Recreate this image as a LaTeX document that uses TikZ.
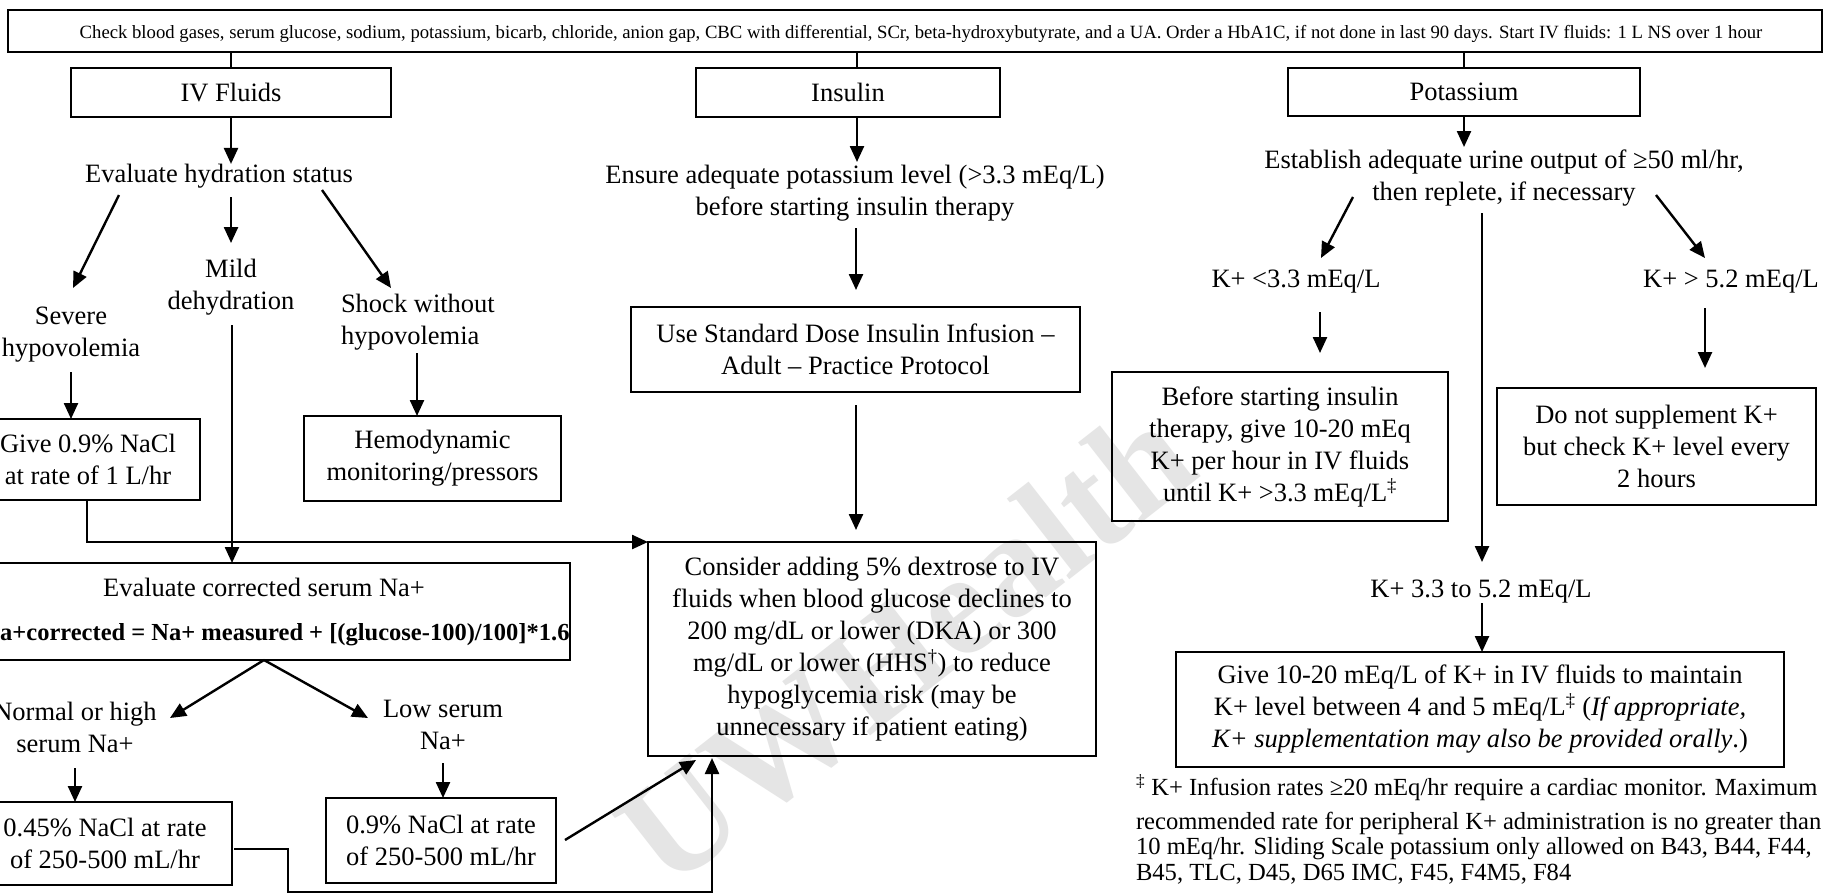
\documentclass[tikz,border=0pt]{standalone}
\usepackage{fontspec}
\setmainfont{Liberation Serif}
\usetikzlibrary{arrows.meta}
\begin{document}
\begin{tikzpicture}[x=1pt,y=-1pt,
  every node/.style={inner sep=0pt,outer sep=0pt,font=\fontsize{26.5}{32}\selectfont},
  box/.style={draw,line width=2.4pt,align=center},
  lbl/.style={align=center},
  arr/.style={line width=2.4pt,-{Triangle[length=16pt,width=14pt]}},
  ln/.style={line width=2.4pt},
]
\useasboundingbox (0,0) rectangle (1836,895);
\fill[white] (0,0) rectangle (1836,895);
% watermark
\node[font=\fontsize{147}{150}\selectfont\bfseries,text=black!10,rotate=38] (wm) at (905,645) {UWHealth};

% top box
\node[box,line width=2.8pt,minimum width=1814pt,minimum height=42pt] (top) at (915,31) {};
\node[font=\fontsize{18.7}{21}\selectfont] (toptext) at (921,34)
 {Check blood gases, serum glucose, sodium, potassium, bicarb, chloride, anion gap, CBC with differential, SCr, beta-hydroxybutyrate, and a UA. Order a HbA1C, if not done in last 90 days. Start IV fluids: 1 L NS over 1 hour};

% headers
\node[box,minimum width=320pt,minimum height=49pt] (ivf) at (231,92.5) {IV Fluids};
\node[box,minimum width=304pt,minimum height=49pt] (ins) at (848,92.5) {Insulin};
\node[box,minimum width=352pt,minimum height=48pt] (pot) at (1464,92) {Potassium};

% IV fluids column
\node[lbl] (hyd) at (219,176) {Evaluate hydration status};
\node[lbl] (mild) at (231,287) {Mild\\dehydration};
\node[lbl] (severe) at (71,335) {Severe\\hypovolemia};
\node[align=left,anchor=west] (shock) at (341,322) {Shock without\\hypovolemia};
\node[box,minimum width=224pt,minimum height=81pt] (give09) at (88,459.5) {Give 0.9\% NaCl\\at rate of 1 L/hr};
\node[box,minimum width=257pt,minimum height=85pt] (hemo) at (432.5,458.5) {Hemodynamic\\monitoring/pressors};
\node[box,minimum width=612pt,minimum height=97pt] (na) at (264,611.5)
 {Evaluate corrected serum Na+\\[12pt]{\fontsize{24.5}{28}\selectfont\bfseries\hspace*{24pt}Na+corrected = Na+ measured + [(glucose-100)/100]*1.6}};
\node[lbl] (normal) at (75,727) {Normal or high\\serum Na+};
\node[lbl] (low) at (443,725) {Low serum\\Na+};
\node[box,minimum width=254pt,minimum height=83pt] (n045) at (105,843.5) {0.45\% NaCl at rate\\of 250-500 mL/hr};
\node[box,minimum width=230pt,minimum height=85pt] (n09) at (441,840.5) {0.9\% NaCl at rate\\of 250-500 mL/hr};

% Insulin column
\node[lbl] (ensure) at (855,193) {Ensure adequate potassium level (>3.3 mEq/L)\\before starting insulin therapy};
\node[box,minimum width=449pt,minimum height=85pt] (usd) at (855.5,349.5) {Use Standard Dose Insulin Infusion --\\Adult -- Practice Protocol};
\node[box,minimum width=448pt,minimum height=214pt] (cons) at (872,649)
 {Consider adding 5\% dextrose to IV\\fluids when blood glucose declines to\\200 mg/dL or lower (DKA) or 300\\mg/dL or lower (HHS\textsuperscript{†}) to reduce\\hypoglycemia risk (may be\\unnecessary if patient eating)};

% Potassium column
\node[lbl] (estab) at (1504,178) {Establish adequate urine output of ≥50 ml/hr,\\then replete, if necessary};
\node[lbl] (klow) at (1296,282) {K+ <3.3 mEq/L};
\node[lbl] (khigh) at (1731,282) {K+ > 5.2 mEq/L};
\node[box,minimum width=336pt,minimum height=149pt] (before) at (1280,446.5)
 {Before starting insulin\\therapy, give 10-20 mEq\\K+ per hour in IV fluids\\until K+ >3.3 mEq/L\textsuperscript{‡}};
\node[box,minimum width=319pt,minimum height=117pt] (donot) at (1656.5,446.5)
 {Do not supplement K+\\but check K+ level every\\2 hours};
\node[lbl] (kmid) at (1481,592) {K+ 3.3 to 5.2 mEq/L};
\node[box,minimum width=608pt,minimum height=115pt] (givek) at (1480,709.5)
 {Give 10-20 mEq/L of K+ in IV fluids to maintain\\K+ level between 4 and 5 mEq/L\textsuperscript{‡} (\textit{If appropriate,}\\\textit{K+ supplementation may also be provided orally}.)};
\node[align=left,anchor=north west,font=\fontsize{24.6}{25.5}\selectfont] (foot) at (1136,775)
 {\textsuperscript{‡} K+ Infusion rates ≥20 mEq/hr require a cardiac monitor. Maximum\\[8pt]recommended rate for peripheral K+ administration is no greater than\\10 mEq/hr. Sliding Scale potassium only allowed on B43, B44, F44,\\B45, TLC, D45, D65 IMC, F45, F4M5, F84};

% free-end coordinates
\coordinate (insx) at (857,0);
\coordinate (hydL) at (119,195);   \coordinate (sevT) at (73,288);
\coordinate (hydM) at (231,197);   \coordinate (mildT) at (231,243);
\coordinate (hydR) at (322,190);   \coordinate (shockT) at (391,288);
\coordinate (sevB) at (71,372);
\coordinate (shockB) at (417,353);
\coordinate (mildB) at (232,325);
\coordinate (g09B) at (87,500);    \coordinate (g09C) at (87,542);
\coordinate (normT) at (170,718);  \coordinate (lowT) at (368,718);
\coordinate (normB) at (75,768);   \coordinate (lowB) at (443,763);
\coordinate (n09E) at (565,840);   \coordinate (consBL) at (696,760);
\coordinate (n045E) at (234,849);  \coordinate (r1) at (288,849);
\coordinate (r2) at (288,892);     \coordinate (r3) at (712,892);
\coordinate (consB) at (712,758);
\coordinate (ensT) at (857,162);
\coordinate (ensB) at (856,228);   \coordinate (usdT) at (856,290);
\coordinate (usdB) at (856,405);   \coordinate (consT) at (856,530);
\coordinate (potB) at (1464,147);
\coordinate (estL) at (1353,197);  \coordinate (klowT) at (1321,258);
\coordinate (estM) at (1482,213);  \coordinate (kmidT) at (1482,562);
\coordinate (estR) at (1656,195);  \coordinate (khighT) at (1705,258);
\coordinate (klowB) at (1320,312); \coordinate (befT) at (1320,353);
\coordinate (khighB) at (1705,308);\coordinate (donT) at (1705,368);
\coordinate (kmidB) at (1482,603);

% connectors from top box
\draw[ln] (top.south -| ivf.north) -- (ivf.north);
\draw[ln] (top.south -| insx) -- (ins.north -| insx);
\draw[ln] (top.south -| pot.north) -- (pot.north);

% IV fluids connectors
\draw[arr] (ivf.south) -- (ivf.south |- hyd.north);
\draw[arr] (hydL) -- (sevT);
\draw[arr] (hydM) -- (mildT);
\draw[arr] (hydR) -- (shockT);
\draw[arr] (sevB) -- (sevB |- give09.north);
\draw[arr] (shockB) -- (shockB |- hemo.north);
\draw[arr] (mildB) -- (mildB |- na.north);
\draw[arr] (g09B) -- (g09C) -- (cons.north west);
\draw[arr] (na.south) -- (normT);
\draw[arr] (na.south) -- (lowT);
\draw[arr] (normB) -- (normB |- n045.north);
\draw[arr] (lowB) -- (lowB |- n09.north);
\draw[arr] (n09E) -- (consBL);
\draw[arr] (n045E) -- (r1) -- (r2) -- (r3) -- (consB);

% Insulin connectors
\draw[arr] (ins.south -| insx) -- (ensT);
\draw[arr] (ensB) -- (usdT);
\draw[arr] (usdB) -- (consT);

% Potassium connectors
\draw[arr] (pot.south) -- (potB);
\draw[arr] (estL) -- (klowT);
\draw[arr] (estM) -- (kmidT);
\draw[arr] (estR) -- (khighT);
\draw[arr] (klowB) -- (befT);
\draw[arr] (khighB) -- (donT);
\draw[arr] (kmidB) -- (kmidB |- givek.north);
\end{tikzpicture}
\end{document}
